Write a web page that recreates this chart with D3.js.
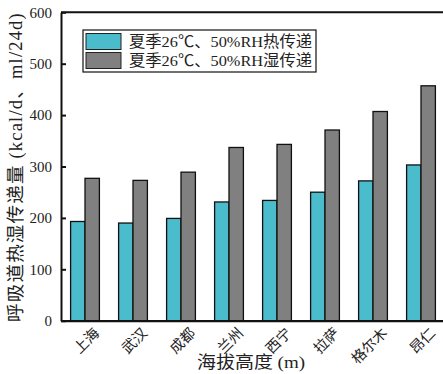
<!DOCTYPE html>
<html><head><meta charset="utf-8">
<script src="https://cdn.jsdelivr.net/npm/d3@7"></script>
<style>body{margin:0;background:#fff}svg{display:block}text{font-family:"Liberation Serif","Noto Sans CJK SC",serif;fill:#222}</style>
</head><body>
<script>
const categories = ["上海","武汉","成都","兰州","西宁","拉萨","格尔木","昂仁"];
const heatValues = [193, 190, 199, 231, 234, 250, 272, 303];
const moistValues = [277, 273, 289, 337, 343, 371, 407, 457];
const seriesNames = ["夏季26℃、50%RH热传递","夏季26℃、50%RH湿传递"];
const yTicks = [0,100,200,300,400,500,600];
const colors = ["#4bbccc","#808080"];

const W=443,H=374;
const svg=d3.select("body").append("svg").attr("width",W).attr("height",H);
const x=d3.scaleBand().domain(categories).range([61,445]).paddingInner(0.4).paddingOuter(0.2);
const y=d3.scaleLinear().domain([0,600]).range([320.7,12.3]);
const x1=d3.scaleBand().domain([0,1]).range([0,x.bandwidth()]);

const series=[heatValues,moistValues];
series.forEach((vals,si)=>{
  svg.append("g").selectAll("rect").data(vals).join("rect")
    .attr("x",(d,i)=>x(categories[i])+x1(si))
    .attr("y",d=>y(d))
    .attr("width",x1.bandwidth())
    .attr("height",d=>y(0)-y(d))
    .attr("fill",colors[si]).attr("stroke","#111").attr("stroke-width",1.3);
});

svg.append("line").attr("x1",61).attr("x2",445).attr("y1",y(600)).attr("y2",y(600)).attr("stroke","#111").attr("stroke-width",2);

const ya=svg.append("g").attr("transform","translate(61,0)").call(d3.axisLeft(y).tickValues(yTicks).tickSizeInner(-5).tickSizeOuter(0).tickPadding(9));
ya.select(".domain").attr("stroke","#111").attr("stroke-width",2);
ya.selectAll(".tick line").attr("stroke","#111").attr("stroke-width",2);
ya.selectAll("text").attr("font-size",15).attr("fill","#333");

const xa=svg.append("g").attr("transform",`translate(0,${y(0)})`).call(d3.axisBottom(x).tickSize(0).tickSizeOuter(0));
xa.select(".domain").attr("stroke","#111").attr("stroke-width",2.2);
xa.selectAll("text").attr("font-size",14.5).attr("fill","#333")
  .attr("text-anchor","end").attr("dy",null).attr("y",0)
  .attr("transform","translate(8,6) rotate(-45)")
  .attr("dominant-baseline","hanging");

svg.append("text").attr("transform","translate(22,167) rotate(-90)").attr("text-anchor","middle")
  .attr("font-size",18.5).attr("fill","#333").attr("letter-spacing",1.2)
  .text("呼吸道热湿传递量 (kcal/d、ml/24d)");
svg.append("text").attr("x",251).attr("y",368).attr("text-anchor","middle")
  .attr("font-size",17.5).attr("fill","#333")
  .attr("textLength",108).attr("lengthAdjust","spacingAndGlyphs")
  .text("海拔高度 (m)");

const lg=svg.append("g");
lg.append("rect").attr("x",83).attr("y",30).attr("width",233).attr("height",42).attr("fill","#fff").attr("stroke","#111").attr("stroke-width",1.2);
seriesNames.forEach((n,i)=>{
  lg.append("rect").attr("x",86).attr("y",33.5+i*19).attr("width",35).attr("height",16)
    .attr("fill",colors[i]).attr("stroke","#222").attr("stroke-width",1);
  lg.append("text").attr("x",129).attr("y",47+i*19).attr("font-size",15.5).attr("fill","#222")
    .attr("textLength",183).attr("lengthAdjust","spacingAndGlyphs").text(n);
});
</script>
</body></html>
